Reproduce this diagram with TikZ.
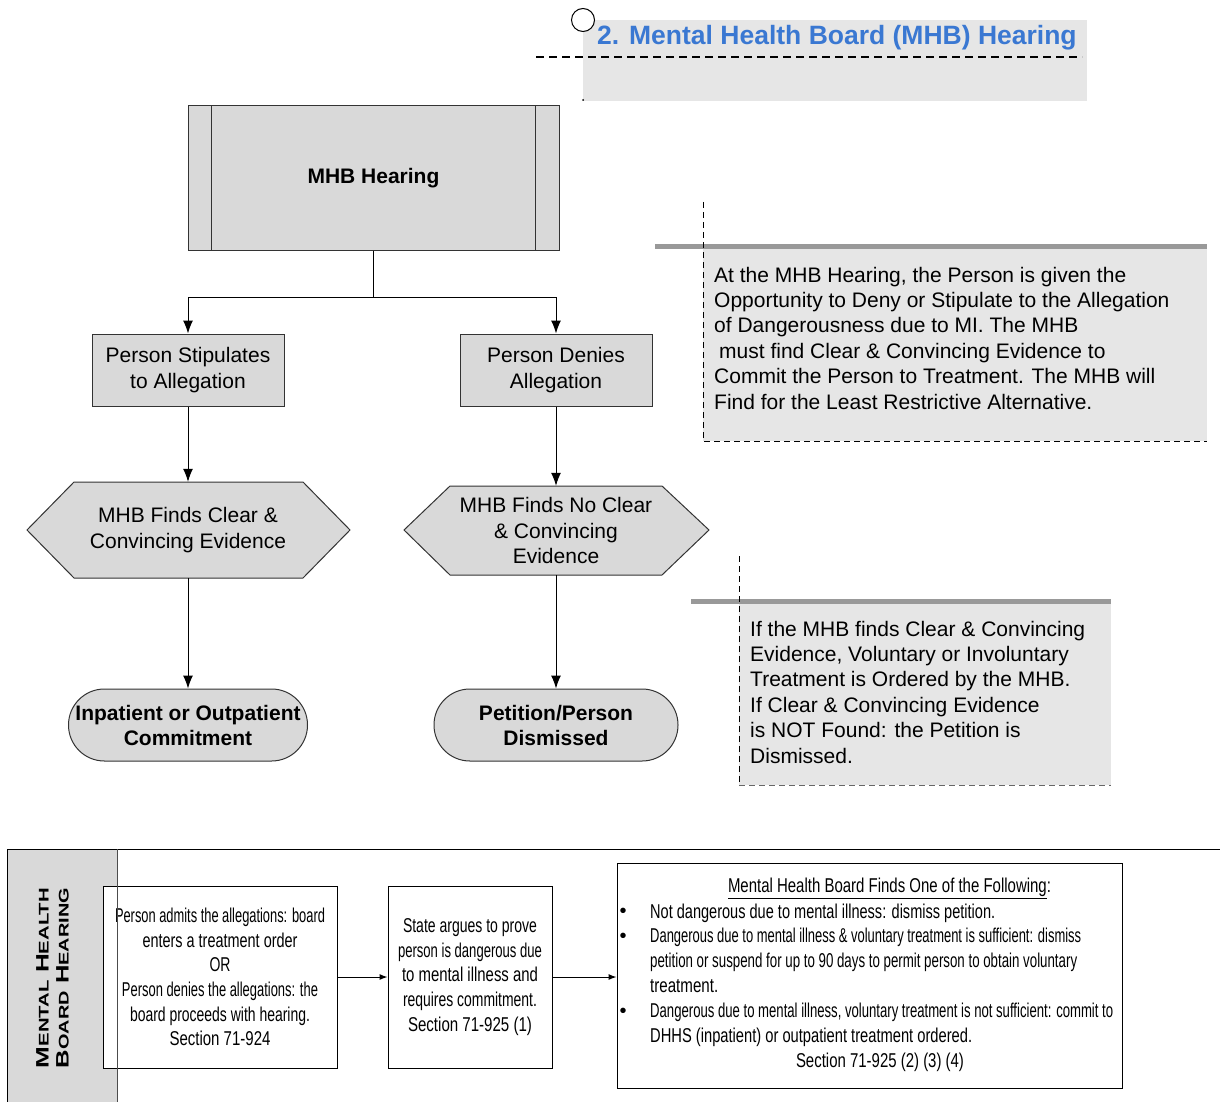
\documentclass[tikz,border=0pt]{standalone}
\usepackage{fontspec}
\usepackage{graphicx}
\setmainfont{Liberation Sans}
\usetikzlibrary{arrows.meta,calc}
\definecolor{nodegray}{HTML}{D9D9D9}
\definecolor{notegray}{HTML}{E6E6E6}
\definecolor{bargray}{HTML}{999999}
\definecolor{titleblue}{HTML}{3A78D2}
\newcommand{\fitw}[2]{\resizebox{#1}{\height}{#2}}
\tikzset{
  gbox/.style={draw=black!80, fill=nodegray, line width=1pt, inner sep=0pt, align=center, font=\fontsize{21}{25.5}\selectfont},
  hexnode/.style={inner sep=0pt, align=center, font=\fontsize{21}{25.5}\selectfont},
  hexshape/.style={draw=black!80, fill=nodegray, line width=1pt},
  termbox/.style={gbox, rounded corners=35.9pt, font=\fontsize{21}{25}\selectfont\bfseries},
  wbox/.style={draw=black, fill=white, line width=1pt, inner sep=0pt, align=center, font=\fontsize{20}{24.6}\selectfont},
  conn/.style={line width=1pt, draw=black},
  arr/.style={conn, -{Latex[length=13pt,width=10pt]}},
  sarr/.style={conn, -{Latex[length=8pt,width=6pt]}},
  notetext/.style={align=left, inner sep=0pt, font=\fontsize{21}{25.4}\selectfont},
  notedash/.style={line width=0.9pt, dash pattern=on 6pt off 4pt},
  notebar/.style={draw=bargray, line width=5pt},
  smalltext/.style={inner sep=0pt, align=left, font=\fontsize{20}{24.8}\selectfont},
  lanetext/.style={rotate=90, inner sep=0pt, font=\fontsize{18}{19}\selectfont\bfseries},
}
\newcommand{\sck}[1]{{\fontsize{14}{15}\selectfont #1}}
\begin{document}
\begin{tikzpicture}[x=1pt,y=-1pt]
\useasboundingbox (0,0) rectangle (1220,1102);

% ---------- title ----------
\fill[notegray] (583,20) rectangle (1087,101);
\fill[black] (583,100) circle[radius=1pt];
\draw[line width=1.2pt, dash pattern=on 8pt off 5pt] (536,57) -- (1082,57);
\node[anchor=base west, inner sep=0pt, text=titleblue, font=\fontsize{26.5}{30}\selectfont\bfseries] (title) at (597,45) {2. Mental Health Board (MHB) Hearing};
\draw[line width=1pt, fill=white] (583,20) circle[radius=11.5pt];

% ---------- flowchart ----------
\node[gbox, minimum width=371pt, minimum height=144pt] (hear) at (373.5,178) {\bfseries MHB Hearing};
\draw[line width=1pt, draw=black!80] ($(hear.north west)+(24,0)$) -- ($(hear.south west)+(24,0)$);
\draw[line width=1pt, draw=black!80] ($(hear.north east)+(-24,0)$) -- ($(hear.south east)+(-24,0)$);

\node[gbox, minimum width=192pt, minimum height=72pt] (stip) at (188,370) {Person Stipulates\\to Allegation};
\node[gbox, minimum width=192pt, minimum height=72pt] (deny) at (556,370) {Person Denies\\Allegation};

\draw[conn] (hear.south) -- ++(0,47) coordinate (split);
\draw[arr] (split) -| (stip.north);
\draw[arr] (split) -| (deny.north);

\draw[hexshape] (27,530) -- (74,482) -- (303,482) -- (350,530) -- (303,578) -- (74,578) -- cycle;
\node[hexnode, minimum width=229pt, minimum height=96pt] (h1) at (188,530) {MHB Finds Clear \&\\Convincing Evidence};
\draw[hexshape] (404,530) -- (450,486) -- (662,486) -- (709,530) -- (662,575) -- (450,575) -- cycle;
\node[hexnode, minimum width=212pt, minimum height=89pt] (h2) at (556,530.5) {MHB Finds No Clear\\\& Convincing\\Evidence};

\draw[arr] (stip.south) -- (h1.north);
\draw[arr] (deny.south) -- (h2.north);

\node[termbox, minimum width=239pt, minimum height=72pt] (t1) at (188,725) {Inpatient or Outpatient\\Commitment};
\node[termbox, minimum width=244pt, minimum height=72pt] (t2) at (556,725) {Petition/Person\\Dismissed};

\draw[arr] (h1.south) -- (t1.north);
\draw[arr] (h2.south) -- (t2.north);

% ---------- note 1 ----------
\fill[notegray] (703,249) rectangle (1207,441);
\draw[notebar] (655,246) -- (1207,246);
\draw[notedash] (703,202) -- (703,441) -- (1207,441);
\node[notetext, anchor=west] (note1) at (714,338) {At the MHB Hearing, the Person is given the\\Opportunity to Deny or Stipulate to the Allegation\\of Dangerousness due to MI. The MHB\\\hspace*{5pt}must find Clear \& Convincing Evidence to\\Commit the Person to Treatment. The MHB will\\Find for the Least Restrictive Alternative.};

% ---------- note 2 ----------
\fill[notegray] (739,603) rectangle (1111,785);
\draw[notebar] (691,601) -- (1111,601);
\draw[notedash] (739,556) -- (739,785);
\draw[notedash, draw=black!60] (739,785) -- (1111,785);
\node[notetext, anchor=west] (note2) at (750,692) {If the MHB finds Clear \& Convincing\\Evidence, Voluntary or Involuntary\\Treatment is Ordered by the MHB.\\If Clear \& Convincing Evidence\\is NOT Found: the Petition is\\Dismissed.};

% ---------- bottom swimlane ----------
\fill[nodegray] (7,849) rectangle (117,1102);
\draw[line width=1pt] (7,1102) -- (7,849) -- (1220,849);

\node[lanetext] (lane1) at (42.5,978) {\fitw{180pt}{M\sck{ENTAL} H\sck{EALTH}}};
\node[lanetext] (lane2) at (62.5,978) {\fitw{180pt}{B\sck{OARD} H\sck{EARING}}};

\node[wbox, minimum width=234pt, minimum height=182pt] (a) at (220,977) {\fitw{210pt}{Person admits the allegations: board}\\\fitw{155pt}{enters a treatment order}\\\fitw{21pt}{OR}\\\fitw{196pt}{Person denies the allegations: the}\\\fitw{180pt}{board proceeds with hearing.}\\\fitw{101pt}{Section 71-924}};
\draw[line width=1pt, draw=black!70] (117,849) -- (117,1102);

\node[wbox, minimum width=164pt, minimum height=182pt] (b) at (470,977) {\fitw{134pt}{State argues to prove}\\\fitw{144pt}{person is dangerous due}\\\fitw{136pt}{to mental illness and}\\\fitw{134pt}{requires commitment.}\\\fitw{124pt}{Section 71-925 (1)}};

\node[wbox, minimum width=505pt, minimum height=225pt] (c) at (869.5,975.5) {};

\draw[sarr] (a.east) -- (b.west);
\draw[sarr] (b.east) -- (b.east -| c.west);

\node[smalltext, anchor=center] (ctitle) at (889.5,888) {\fitw{323pt}{\underline{Mental Health Board Finds One of the Following}:}};
\node[smalltext, anchor=west] (clist) at (650,975) {\fitw{345pt}{Not dangerous due to mental illness: dismiss petition.}\\\fitw{431pt}{Dangerous due to mental illness \& voluntary treatment is sufficient: dismiss}\\\fitw{427pt}{petition or suspend for up to 90 days to permit person to obtain voluntary}\\\fitw{68pt}{treatment.}\\\fitw{463pt}{Dangerous due to mental illness, voluntary treatment is not sufficient: commit to}\\\fitw{322pt}{DHHS (inpatient) or outpatient treatment ordered.}};
\node[smalltext, anchor=center] (csec) at (880,1062) {\fitw{168pt}{Section 71-925 (2) (3) (4)}};
\foreach \yy/\nm in {913/b1,938/b2,1013/b3}
  \node[inner sep=0pt, font=\fontsize{20}{20}\selectfont] (\nm) at (623,\yy) {•};

\end{tikzpicture}
\end{document}
